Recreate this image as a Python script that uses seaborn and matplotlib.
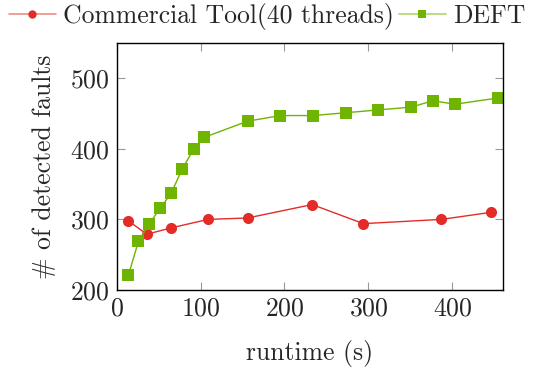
import matplotlib
matplotlib.use("Agg")
import matplotlib.pyplot as plt
import seaborn as sns
import pandas as pd
from matplotlib.lines import Line2D
from matplotlib.legend_handler import HandlerTuple

commercial_x = [14, 36, 65, 109, 156, 233, 294, 387, 446]
commercial_y = [298, 279, 288, 300, 302, 321, 294, 300, 310]
deft_x = [14, 26, 39, 52, 65, 78, 92, 104, 156, 195, 234, 273, 312, 351, 377, 403, 455]
deft_y = [221, 269, 294, 316, 337, 371, 400, 416, 439, 447, 447, 451, 455, 459, 468, 463, 472]
series_names = ["Commercial Tool(40 threads)", "DEFT"]
x_ticks = [0, 100, 200, 300, 400]
y_ticks = [200, 300, 400, 500]

sns.set_theme(style="ticks")
plt.rcParams["font.family"] = ["cmr10", "DejaVu Serif"]
plt.rcParams["axes.formatter.use_mathtext"] = True
plt.rcParams["mathtext.fontset"] = "cm"

df = pd.concat([
    pd.DataFrame({"x": commercial_x, "y": commercial_y, "s": series_names[0]}),
    pd.DataFrame({"x": deft_x, "y": deft_y, "s": series_names[1]}),
])

red = "#e32c28"
green = "#6eb400"
fs = 18.5

fig = plt.figure(figsize=(5.35, 3.69), dpi=100)
ax = fig.add_axes([0.218, 0.214, 0.7216, 0.670])
sns.lineplot(data=df, x="x", y="y", hue="s", style="s",
             palette={series_names[0]: red, series_names[1]: green},
             markers={series_names[0]: "o", series_names[1]: "s"},
             dashes=False, markersize=8, markeredgewidth=0, linewidth=1.0,
             ax=ax, legend=False, sort=False)

ax.set_xlim(0, 460)
ax.set_ylim(200, 550)
ax.set_xticks(x_ticks)
ax.set_yticks(y_ticks)
ax.tick_params(direction="in", length=6, width=0.8, color="#999999",
               top=True, right=True, labelsize=fs, pad=5)
for sp in ax.spines.values():
    sp.set_linewidth(1.0)
    sp.set_color("black")
ax.set_xlabel("runtime (s)", fontsize=fs, labelpad=14)
ax.set_ylabel("# of detected faults", fontsize=fs, labelpad=10)

handles = [
    (Line2D([], [], color=red, alpha=0.55, linewidth=1.2),
     Line2D([], [], color=red, marker="o", markersize=6, markeredgewidth=0, linestyle="none")),
    (Line2D([], [], color=green, alpha=0.55, linewidth=1.2),
     Line2D([], [], color=green, marker="s", markersize=6, markeredgewidth=0, linestyle="none")),
]
leg = fig.legend(handles, series_names, loc="upper center", bbox_to_anchor=(0.5, 1.02),
                 ncol=2, frameon=False, fontsize=fs, handlelength=1.8, handletextpad=0.3,
                 columnspacing=0.2, borderaxespad=0,
                 handler_map={tuple: HandlerTuple(ndivide=1)})
fig.savefig("out.png", dpi=100)
